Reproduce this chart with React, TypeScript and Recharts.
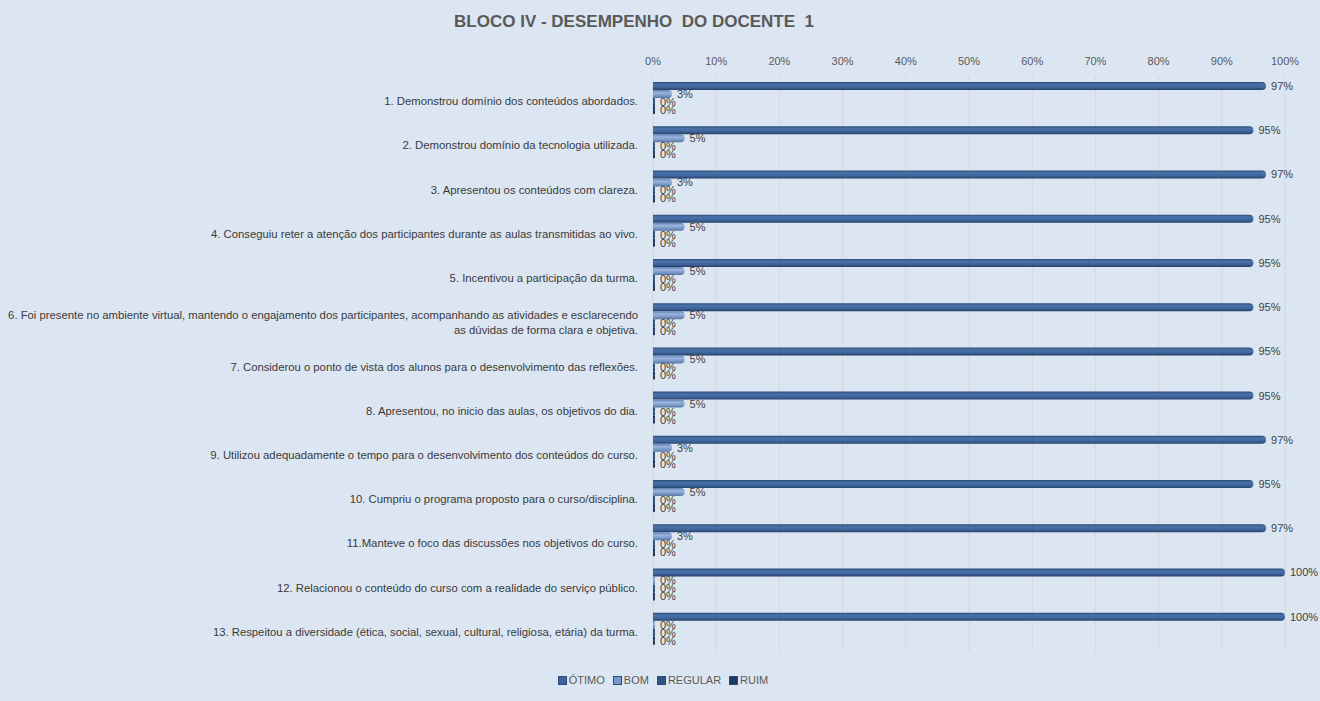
import React from 'react';
import { BarChart, Bar, XAxis, YAxis, CartesianGrid, LabelList } from 'recharts';

const categories = [
  '1. Demonstrou domínio dos conteúdos abordados.',
  '2. Demonstrou domínio da tecnologia utilizada.',
  '3. Apresentou os conteúdos com clareza.',
  '4. Conseguiu reter a atenção dos participantes durante as aulas transmitidas ao vivo.',
  '5. Incentivou a participação da turma.',
  '6. Foi presente no ambiente virtual, mantendo o engajamento dos participantes, acompanhando as atividades e esclarecendo\nas dúvidas de forma clara e objetiva.',
  '7. Considerou o ponto de vista dos alunos para o desenvolvimento das reflexões.',
  '8. Apresentou, no inicio das aulas, os objetivos do dia.',
  '9. Utilizou adequadamente o tempo para o desenvolvimento dos conteúdos do curso.',
  '10. Cumpriu o programa proposto para o curso/disciplina.',
  '11.Manteve o foco das discussões nos objetivos do curso.',
  '12. Relacionou o conteúdo do curso com a realidade do serviço público.',
  '13. Respeitou a diversidade (ética, social, sexual, cultural, religiosa, etária) da turma.',
];

const otimo = [97, 95, 97, 95, 95, 95, 95, 95, 97, 95, 97, 100, 100];
const bom = [3, 5, 3, 5, 5, 5, 5, 5, 3, 5, 3, 0, 0];
const regular = [0, 0, 0, 0, 0, 0, 0, 0, 0, 0, 0, 0, 0];
const ruim = [0, 0, 0, 0, 0, 0, 0, 0, 0, 0, 0, 0, 0];

const xTicks = [0, 10, 20, 30, 40, 50, 60, 70, 80, 90, 100];
const seriesNames = ['ÓTIMO', 'BOM', 'REGULAR', 'RUIM'];

const data = categories.map((name, i) => ({
  name,
  otimo: otimo[i],
  bom: bom[i],
  regular: regular[i],
  ruim: ruim[i],
}));

const FONT = '"Liberation Sans", Arial, sans-serif';
const legendColors = ['#3d6398', '#7a98c8', '#2f5384', '#1d3a63'];

const CatTick = (props: any) => {
  const { x, y, payload } = props;
  const lines: string[] = String(payload.value).split('\n');
  const lh = 15;
  const first = 7 - ((lines.length - 1) * lh) / 2;
  return (
    <text x={x} y={y} textAnchor="end" fill="#3a3a3a" fontSize={11.3} fontFamily={FONT}>
      {lines.map((l, i) => (
        <tspan key={i} x={x} dy={i === 0 ? first : lh}>
          {l}
        </tspan>
      ))}
    </text>
  );
};

const fmt = (v: any) => `${v}%`;

export default function App() {
  return (
    <div
      style={{
        position: 'absolute',
        left: 0,
        top: 0,
        width: 1320,
        height: 701,
        background: '#dce6f2',
        fontFamily: FONT,
        overflow: 'hidden',
      }}
    >
      <div
        style={{
          position: 'absolute',
          left: 334,
          width: 600,
          top: 12,
          textAlign: 'center',
          fontSize: 17,
          fontWeight: 'bold',
          color: '#595959',
          whiteSpace: 'pre',
        }}
      >
        {'BLOCO IV - DESEMPENHO  DO DOCENTE  1'}
      </div>
      <BarChart
        width={1320}
        height={701}
        data={data}
        layout="vertical"
        margin={{ top: 50, right: 35, bottom: 50, left: 0 }}
        barGap={0}
        barSize={8}
      >
        <defs>
          <linearGradient id="gOt" x1="0" y1="0" x2="0" y2="1">
            <stop offset="0%" stopColor="#2a4a78" />
            <stop offset="30%" stopColor="#4a73ab" />
            <stop offset="70%" stopColor="#3d6398" />
            <stop offset="100%" stopColor="#253f66" />
          </linearGradient>
          <linearGradient id="gBo" x1="0" y1="0" x2="0" y2="1">
            <stop offset="0%" stopColor="#5f80b4" />
            <stop offset="35%" stopColor="#9bb4dc" />
            <stop offset="70%" stopColor="#7a98c8" />
            <stop offset="100%" stopColor="#56749f" />
          </linearGradient>
          <linearGradient id="gRe" x1="0" y1="0" x2="0" y2="1">
            <stop offset="0%" stopColor="#22406a" />
            <stop offset="50%" stopColor="#3a5f92" />
            <stop offset="100%" stopColor="#1f3a60" />
          </linearGradient>
          <linearGradient id="gRu" x1="0" y1="0" x2="0" y2="1">
            <stop offset="0%" stopColor="#14294a" />
            <stop offset="50%" stopColor="#2a4a78" />
            <stop offset="100%" stopColor="#132744" />
          </linearGradient>
        </defs>
        <CartesianGrid horizontal={false} stroke="#d6d6d6" />
        <XAxis
          type="number"
          orientation="top"
          domain={[0, 100]}
          ticks={xTicks}
          tickFormatter={fmt}
          axisLine={false}
          tickLine={false}
          height={26}
          tickMargin={5}
          tick={{ fill: '#595959', fontSize: 11, fontFamily: FONT }}
          interval={0}
        />
        <YAxis
          type="category"
          dataKey="name"
          width={653}
          axisLine={false}
          tickLine={false}
          tickMargin={9}
          tick={<CatTick />}
          interval={0}
        />
        <Bar dataKey="otimo" name={seriesNames[0]} fill="url(#gOt)" radius={[0, 4, 4, 0]} minPointSize={2} isAnimationActive={false}>
          <LabelList dataKey="otimo" position="right" offset={5} formatter={fmt} fill="#404040" fontSize={11} fontFamily={FONT} />
        </Bar>
        <Bar dataKey="bom" name={seriesNames[1]} fill="url(#gBo)" radius={[0, 4, 4, 0]} minPointSize={2} isAnimationActive={false}>
          <LabelList dataKey="bom" position="right" offset={5} formatter={fmt} fill="#404040" fontSize={11} fontFamily={FONT} />
        </Bar>
        <Bar dataKey="regular" name={seriesNames[2]} fill="url(#gRe)" radius={[0, 2, 2, 0]} minPointSize={2} isAnimationActive={false}>
          <LabelList dataKey="regular" position="right" offset={5} formatter={fmt} fill="#404040" fontSize={11} fontFamily={FONT} />
        </Bar>
        <Bar dataKey="ruim" name={seriesNames[3]} fill="url(#gRu)" radius={[0, 2, 2, 0]} minPointSize={2} isAnimationActive={false}>
          <LabelList dataKey="ruim" position="right" offset={5} formatter={fmt} fill="#404040" fontSize={11} fontFamily={FONT} />
        </Bar>
      </BarChart>
      <div
        style={{
          position: 'absolute',
          left: 0,
          width: 1326,
          top: 674,
          display: 'flex',
          justifyContent: 'center',
          gap: 8,
          fontSize: 11,
          color: '#595959',
        }}
      >
        {seriesNames.map((n, i) => (
          <div key={n} style={{ display: 'flex', alignItems: 'center' }}>
            <span
              style={{
                display: 'inline-block',
                width: 7,
                height: 7,
                background: legendColors[i],
                border: '1px solid #2a4a78',
                marginRight: 2,
              }}
            />
            <span>{n}</span>
          </div>
        ))}
      </div>
    </div>
  );
}
